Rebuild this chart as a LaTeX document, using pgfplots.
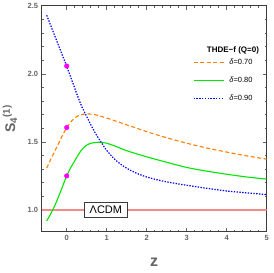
\documentclass[border=0pt]{standalone}
\usepackage{fontspec}
\setmainfont{Liberation Sans}
\usepackage{pgfplots}
\pgfplotsset{compat=1.18}
\definecolor{lblgray}{RGB}{100,100,100}
\definecolor{framegray}{RGB}{60,60,60}
\definecolor{myorange}{RGB}{255,128,0}
\definecolor{mygreen}{RGB}{0,230,0}
\definecolor{myblue}{RGB}{0,0,255}
\definecolor{mypink}{RGB}{245,140,140}
\definecolor{mymagenta}{RGB}{255,0,255}
\begin{document}
\begin{tikzpicture}[x=1pt,y=1pt]
\useasboundingbox (0,0) rectangle (273,273);
\begin{axis}[
  at={(41.7pt,41.3pt)}, anchor=south west,
  scale only axis, width=225pt, height=226pt,
  xmin=-0.625, xmax=5, ymin=0.84, ymax=2.5,
  xtick={0,1,2,3,4,5}, ytick={1.0,1.5,2.0,2.5},
  minor x tick num=4, minor y tick num=4,
  tick align=inside, major tick length=4pt, minor tick length=2pt,
  every tick/.style={lblgray, line width=0.5pt},
  axis line style={framegray, line width=0.8pt},
  ticklabel style={font=\fontsize{7.5}{8}\selectfont\bfseries, text=lblgray},
  /pgf/number format/assume math mode=true,
  yticklabel style={/pgf/number format/.cd, fixed, fixed zerofill, precision=1},
  xlabel={\textbf{z}}, ylabel={\textbf{S\textsubscript{4}\textsuperscript{(1)}}},
  xlabel style={at={(axis description cs:0.5,-0.137)}, anchor=center, font=\fontsize{16}{18}\selectfont, text=lblgray},
  ylabel style={at={(axis description cs:-0.141,0.5)}, anchor=center, rotate=0, font=\fontsize{14}{16}\selectfont, text=lblgray},
  legend style={at={(axis description cs:0.672,0.768)}, anchor=north west, draw=none, fill=none,
    font=\fontsize{7.5}{8}\selectfont, row sep=8.8pt, inner sep=0pt,
    nodes={inner sep=1pt, text height=5.5pt, text depth=1.5pt},
    /tikz/every odd column/.append style={column sep=4pt}},
  legend cell align=left,
  legend image code/.code={\draw[#1] (0pt,0pt) -- (30pt,0pt);},
  clip=true,
]
\addplot[mypink, line width=1.2pt, forget plot] coordinates {(-0.625,1.0)(5,1.0)};
\addplot[myorange, line width=1.1pt, dash pattern=on 4pt off 2.5pt, smooth] coordinates {
(-0.5,1.307)(-0.4,1.37)(-0.3,1.43)(-0.2,1.49)(-0.1,1.55)(0,1.605)(0.1,1.645)(0.2,1.675)(0.3,1.693)(0.4,1.702)(0.5,1.705)(0.6,1.704)(0.7,1.70)(0.8,1.693)(1.0,1.675)(1.2,1.655)(1.5,1.625)(2.0,1.575)(2.5,1.53)(3.0,1.49)(3.5,1.455)(4.0,1.425)(4.5,1.397)(5.0,1.373)};
\addlegendentry{\textit{δ}=0.70}
\addplot[mygreen, line width=1.1pt, smooth] coordinates {
(-0.5,0.92)(-0.4,0.97)(-0.3,1.03)(-0.2,1.10)(-0.1,1.175)(0,1.25)(0.1,1.31)(0.2,1.36)(0.3,1.41)(0.4,1.45)(0.5,1.476)(0.6,1.489)(0.7,1.495)(0.8,1.497)(0.9,1.495)(1.0,1.49)(1.2,1.47)(1.5,1.435)(2.0,1.39)(2.5,1.35)(3.0,1.312)(3.5,1.285)(4.0,1.262)(4.5,1.242)(5.0,1.226)};
\addlegendentry{\textit{δ}=0.80}
\addplot[myblue, line width=1.2pt, dash pattern=on 1.4pt off 1.4pt, smooth] coordinates {
(-0.5,2.43)(-0.4,2.355)(-0.3,2.28)(-0.2,2.205)(-0.1,2.13)(0,2.055)(0.1,1.975)(0.2,1.895)(0.3,1.815)(0.4,1.745)(0.5,1.686)(0.6,1.627)(0.7,1.572)(0.8,1.524)(0.9,1.48)(1.0,1.437)(1.2,1.372)(1.4,1.325)(1.6,1.29)(1.8,1.263)(2.0,1.242)(2.25,1.222)(2.5,1.206)(2.75,1.193)(3.0,1.181)(3.5,1.159)(4.0,1.139)(4.5,1.125)(5.0,1.113)};
\addlegendentry{\textit{δ}=0.90}
\addplot[only marks, mark=*, mark size=2.3pt, color=mymagenta, forget plot] coordinates {(0,2.057)(0,1.605)(0,1.25)};
\node[draw=framegray, line width=0.9pt, fill=white, inner xsep=5pt, inner ysep=4pt, font=\fontsize{11}{12}\selectfont] at (axis cs:0.98,1.0) {ΛCDM};
\node[font=\fontsize{8}{9}\selectfont\bfseries, anchor=center] at (axis description cs:0.85,0.80) {THDE−f (Q=0)};
\end{axis}
\end{tikzpicture}
\end{document}
